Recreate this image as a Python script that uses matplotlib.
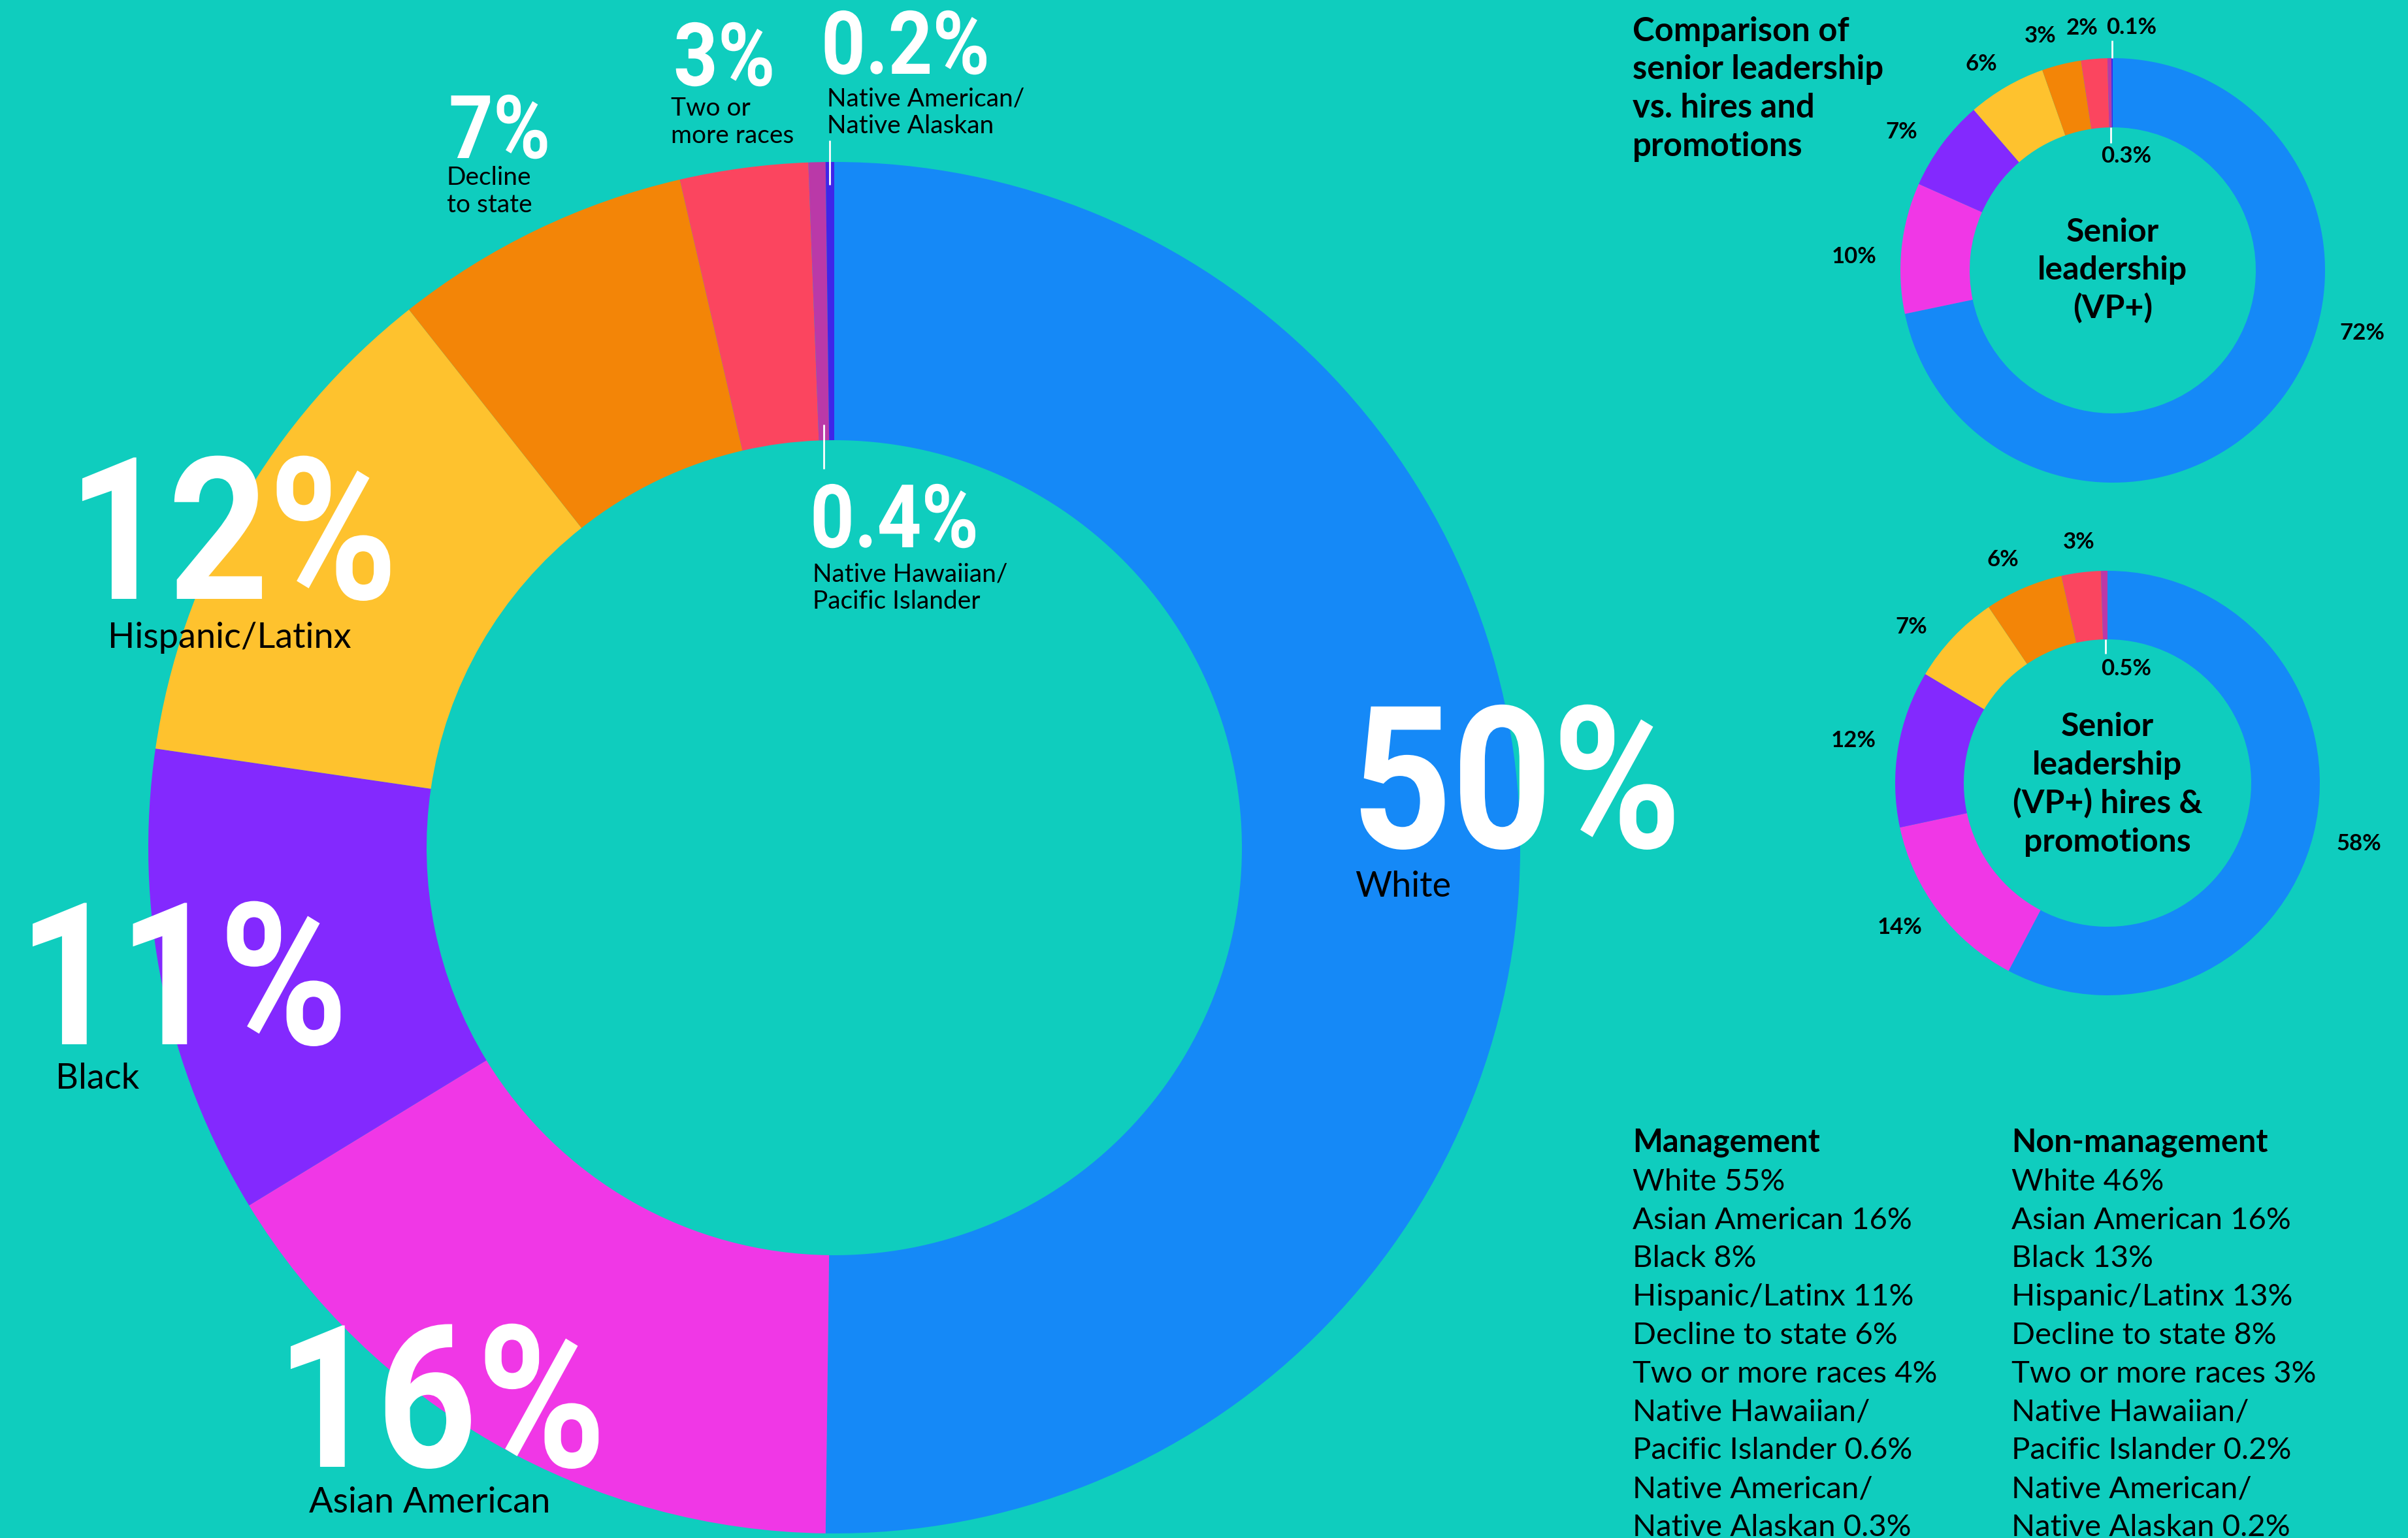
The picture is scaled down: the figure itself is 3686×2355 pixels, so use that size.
import numpy as np
import matplotlib.pyplot as plt
from matplotlib.patheffects import AbstractPathEffect
from matplotlib.transforms import Affine2D

W, H = 3687, 2355
BG = '#0fcdbe'

# --- data ---
groups = ['White', 'Asian American', 'Black', 'Hispanic/Latinx', 'Decline to state',
          'Two or more races', 'Native Hawaiian/Pacific Islander', 'Native American/Native Alaskan']
colors = ['#1589f7', '#f037e6', '#8329fe', '#fec22e', '#f38507', '#fb455f', '#ba39a8', '#3f25e9']

company = [50, 16, 11, 12, 7, 3, 0.4, 0.2]
company_names = ['White', 'Asian American', 'Black', 'Hispanic/Latinx', 'Decline\nto state',
                 'Two or\nmore races', 'Native Hawaiian/\nPacific Islander', 'Native American/\nNative Alaskan']
senior = [72, 10, 7, 6, 3, 2, 0.3, 0.1]
senior_hires = [58, 14, 12, 7, 6, 3, 0.5, 0]

table_rows = ['White', 'Asian American', 'Black', 'Hispanic/Latinx', 'Decline to state',
              'Two or more races', 'Native Hawaiian/\nPacific Islander', 'Native American/\nNative Alaskan']
management = [55, 16, 8, 11, 6, 4, 0.6, 0.3]
non_management = [46, 16, 13, 13, 8, 3, 0.2, 0.2]


def pct(v):
    return f'{v:g}%'


NUM_FONT = ['Roboto', 'DejaVu Sans']
TXT_FONT = ['Lato', 'DejaVu Sans']

fig = plt.figure(figsize=(W / 100, H / 100), dpi=100, facecolor=BG)
ax = fig.add_axes([0, 0, 1, 1])
ax.set_facecolor(BG)


class Narrow(AbstractPathEffect):
    # squeeze glyphs horizontally about the text anchor (condensed look)
    def __init__(self, sx, x):
        super().__init__()
        self.sx, self.x = sx, x

    def draw_path(self, renderer, gc, tpath, affine, rgbFace=None):
        x0 = ax.transData.transform((self.x, 0))[0]
        aff = affine + Affine2D().translate(-x0, 0).scale(self.sx, 1).translate(x0, 0)
        renderer.draw_path(gc, tpath, aff, rgbFace)


def donut(vals, cx, cy, R, r):
    ax.pie(vals, colors=colors, startangle=90, counterclock=False, radius=R,
           center=(cx, H - cy), frame=True,
           wedgeprops=dict(width=R - r, linewidth=0, edgecolor='none'))


def mid_x(vals, i, cx, rad):
    # x position of the middle of wedge i at radius rad
    tot = sum(vals)
    frac = (sum(vals[:i]) + vals[i] / 2) / tot
    th = np.deg2rad(90 - 360 * frac)
    return cx + rad * np.cos(th)


def vline(x, y0, y1):
    ax.plot([x, x], [H - y0, H - y1], color='white', lw=2, solid_capstyle='butt')


def lines(x, y0, txt, step, **kw):
    for i, t in enumerate(txt.split('\n')):
        ax.text(x, H - (y0 + i * step), t, va='baseline', ha='left', **kw)


# --- main donut ---
MC = (1277, 1298)
MR, Mr = 1050, 624
donut(company, MC[0], MC[1], MR, Mr)

num_pos = [(2069, 1298), (423, 2246), (28, 1599), (104, 917),
           (687, 242), (1031, 131), (1240, 838), (1257, 113)]
name_pos = [(2074, 1373), (473, 2316), (85, 1667), (165, 992),
            (684, 283), (1027, 177), (1244, 890), (1266, 162)]
for i, v in enumerate(company):
    big = i < 4
    x, y = num_pos[i]
    ax.text(x, H - y, pct(v), family=NUM_FONT, weight='bold',
            fontsize=219 if big else 97, color='white', va='baseline', ha='left',
            path_effects=[Narrow(0.88, x)])
    lines(name_pos[i][0], name_pos[i][1], company_names[i], 42,
          family=TXT_FONT, fontsize=39 if big else 28, color='black')

x_na = mid_x(company, 7, MC[0], MR)
vline(x_na, MC[1] - MR - 33, MC[1] - MR + 35)
x_nh = mid_x(company, 6, MC[0], Mr)
vline(x_nh, MC[1] - Mr - 24, MC[1] - Mr + 44)

# --- title ---
lines(2499, 63, 'Comparison of\nsenior leadership\nvs. hires and\npromotions', 58.5,
      family=TXT_FONT, weight='bold', fontsize=36.5, color='black')

# --- senior leadership donut ---
SC, SR, Sr = (3234, 414), 325, 219
donut(senior, SC[0], SC[1], SR, Sr)
senior_lab = [(3616, 510), (2838, 393), (2911, 202), (3033, 98),
              (3123, 55), (3187, 43), (3255, 239), (3263, 42)]
for v, p in zip(senior, senior_lab):
    ax.text(p[0], H - p[1], pct(v), family=TXT_FONT, weight='bold', fontsize=25,
            ha='center', va='center', color='black')
vline(mid_x(senior, 7, SC[0], SR), SC[1] - SR - 27, SC[1] - SR)
vline(mid_x(senior, 6, SC[0], Sr), SC[1] - Sr, SC[1] - Sr + 24)
for i, t in enumerate(['Senior', 'leadership', '(VP+)']):
    ax.text(SC[0], H - (370 + i * 58.5), t, family=TXT_FONT, weight='bold', fontsize=36,
            ha='center', va='baseline', color='black')

# --- senior leadership hires donut ---
HC, HR, Hr = (3226, 1199), 325, 220
donut(senior_hires, HC[0], HC[1], HR, Hr)
hires_lab = [(3611, 1292), (2908, 1420), (2837, 1134), (2926, 960),
             (3066, 857), (3182, 830), (3255, 1024)]
for v, p in zip(senior_hires, hires_lab):
    ax.text(p[0], H - p[1], pct(v), family=TXT_FONT, weight='bold', fontsize=25,
            ha='center', va='center', color='black')
vline(mid_x(senior_hires, 6, HC[0], Hr), HC[1] - Hr, HC[1] - Hr + 22)
for i, t in enumerate(['Senior', 'leadership', '(VP+) hires &', 'promotions']):
    ax.text(HC[0], H - (1127 + i * 59), t, family=TXT_FONT, weight='bold', fontsize=36,
            ha='center', va='baseline', color='black')

# --- management / non-management lists ---
for x, head, vals in [(2499, 'Management', management), (3079, 'Non-management', non_management)]:
    ax.text(x, H - 1764, head, family=TXT_FONT, weight='bold', fontsize=35,
            va='baseline', color='black')
    rows = '\n'.join(f'{n} {pct(v)}' for n, v in zip(table_rows, vals))
    lines(x, 1764 + 58.8, rows, 58.8, family=TXT_FONT, fontsize=34, color='black')

ax.set_xlim(0, W)
ax.set_ylim(0, H)
ax.set_aspect('equal')
ax.axis('off')
fig.savefig('out.png', dpi=100, facecolor=BG)
